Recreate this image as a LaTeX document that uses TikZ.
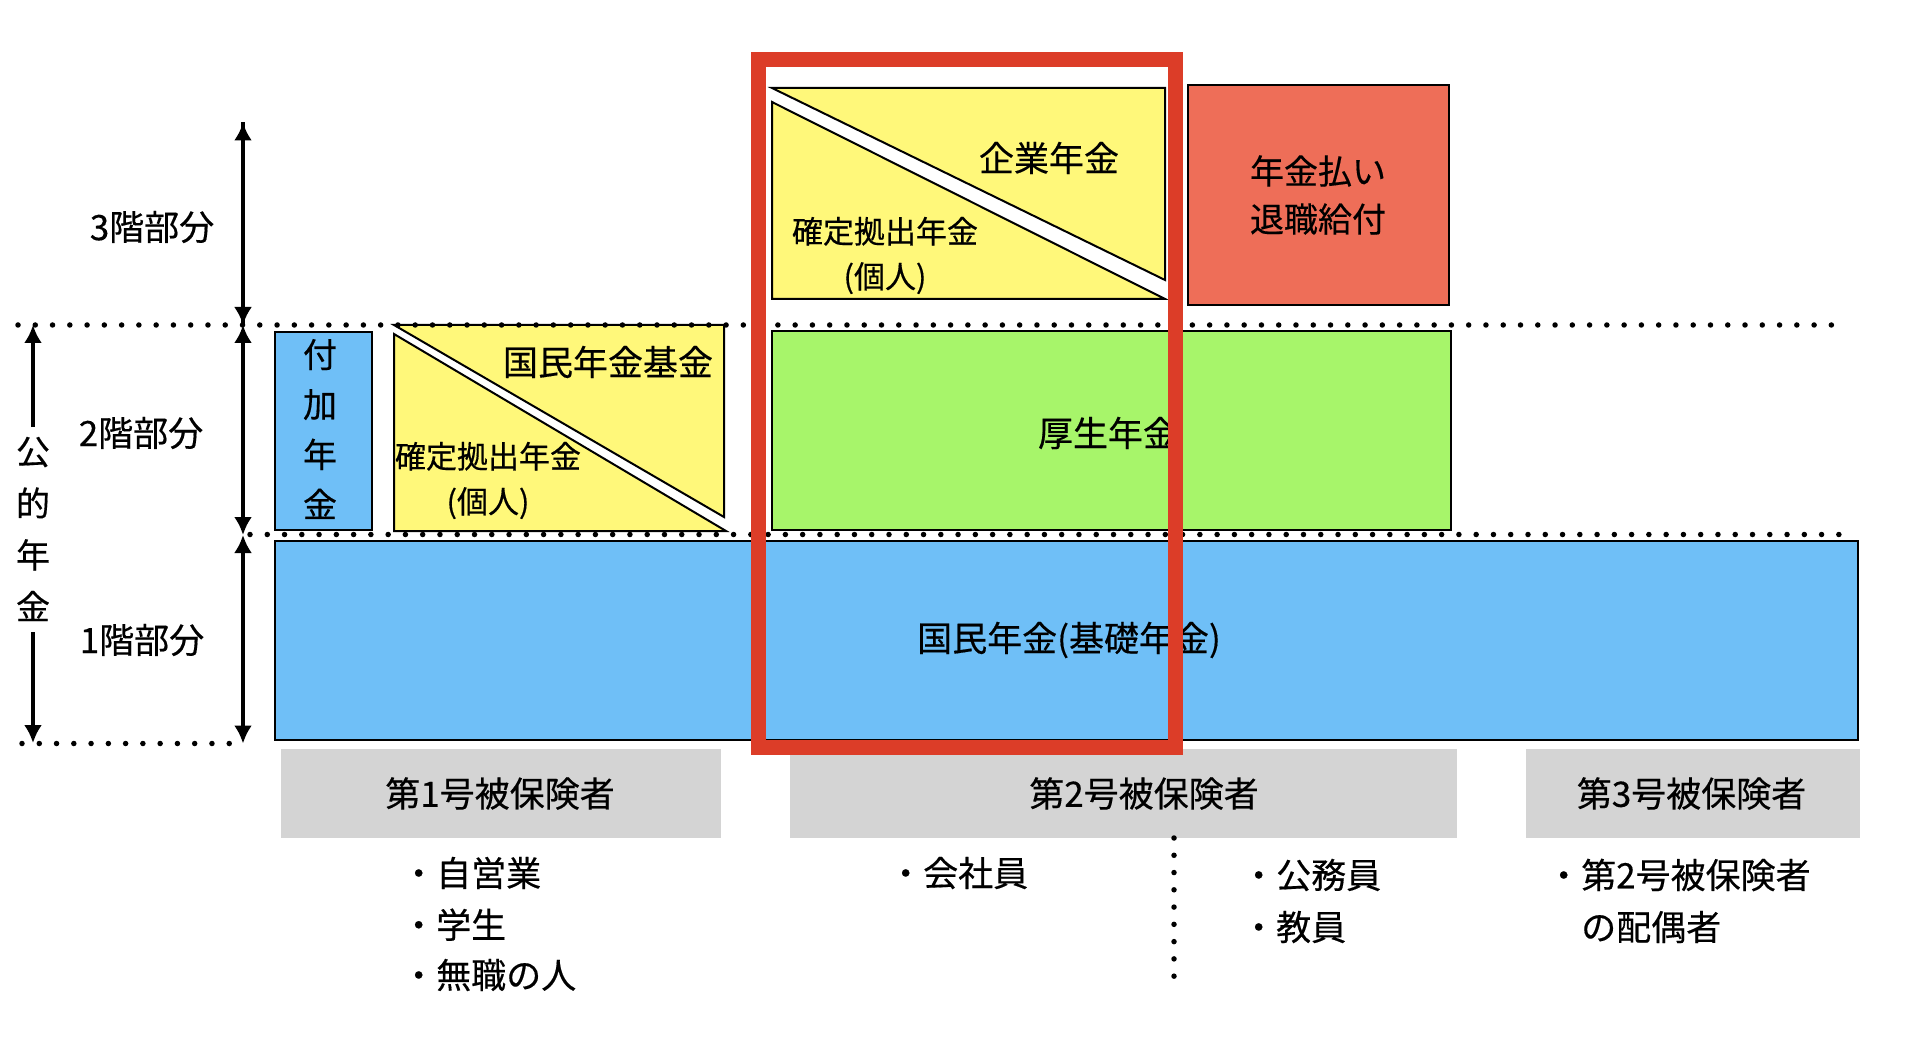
\documentclass[tikz,border=0pt]{standalone}
\usepackage{fontspec}
\setmainfont{Noto Sans CJK JP}[FakeBold=0.4]
\usetikzlibrary{arrows.meta}
\definecolor{yel}{HTML}{FFF87A}
\definecolor{grn}{HTML}{A7F56A}
\definecolor{blu}{HTML}{6FBFF7}
\definecolor{salm}{HTML}{EE6E58}
\definecolor{framered}{HTML}{DC3D28}
\definecolor{gry}{HTML}{D4D4D4}
\begin{document}
\begin{tikzpicture}[x=1pt,y=-1pt,
  lbl/.style={font=\fontsize{35}{40}\selectfont, inner sep=0pt},
  smalllbl/.style={font=\fontsize{31}{45}\selectfont, inner sep=0pt, align=center},
  panel/.style={draw=black, line width=2pt, inner sep=0pt},
  graybox/.style={fill=gry, draw=none, inner sep=0pt},
  dotline/.style={line width=5.5pt, line cap=round, dash pattern=on 0pt off 17.27pt},
  dimarrow/.style={line width=3.4pt, -{Latex[length=18pt,width=18pt]}},
  dimboth/.style={line width=3.4pt, {Latex[length=18pt,width=18pt]}-{Latex[length=18pt,width=18pt]}},
  tri/.style={fill=yel, draw=black, line width=2pt, line join=miter}]
\useasboundingbox (0,0) rectangle (1908,1048);

% ---- tier 3 ----
\coordinate (kA) at (772,88);  \coordinate (kB) at (1165,88);  \coordinate (kC) at (1165,280);
\coordinate (kD) at (772,102); \coordinate (kE) at (772,299); \coordinate (kF) at (1165,299);
\draw[tri] (kA) -- (kB) -- (kC) -- cycle;
\draw[tri] (kD) -- (kE) -- (kF) -- cycle;
\node[lbl] (kigyo) at (1049,158) {企業年金};
\node[smalllbl] (idc1) at (885,255.5) {確定拠出年金\\(個人)};

\node[panel, fill=salm, minimum width=261pt, minimum height=220pt,
      font=\fontsize{34}{48}\selectfont, align=center] (taishoku) at (1318,195) {年金払い\\退職給付};

% ---- tier 2 ----
\node[panel, fill=blu, minimum width=97pt, minimum height=198pt] (fuka) at (323.4,431) {};
\node[lbl, align=center, font=\fontsize{34}{50}\selectfont] (fukatxt) at (320,429) {付\\加\\年\\金};

\coordinate (nA) at (394,325);  \coordinate (nB) at (724,325);  \coordinate (nC) at (724,517);
\coordinate (nD) at (394,334);  \coordinate (nE) at (394,531);  \coordinate (nF) at (726,531);
\draw[tri] (nA) -- (nB) -- (nC) -- cycle;
\draw[tri] (nD) -- (nE) -- (nF) -- cycle;
\node[lbl] (kikin) at (608,362) {国民年金基金};
\node[smalllbl] (idc2) at (488,480.5) {確定拠出年金\\(個人)};

\node[panel, fill=grn, minimum width=679.5pt, minimum height=198.5pt] (kosei) at (1111.25,430.75) {};
\node[lbl] (koseitxt) at (1108,433) {厚生年金};

% ---- tier 1 ----
\node[panel, fill=blu, minimum width=1583pt, minimum height=199pt] (kiso) at (1066.5,640.5) {};
\node[lbl] (kisotxt) at (1069,640) {国民年金(基礎年金)};

% ---- dotted level lines ----
\coordinate (d1a) at (18,325);  \coordinate (d1b) at (1833,325);
\coordinate (d2a) at (250,534.5); \coordinate (d2b) at (1841,534.5);
\coordinate (d3a) at (22,743.5); \coordinate (d3b) at (231,743.5);
\draw[dotline] (d1a) -- (d1b);
\draw[dotline] (d2a) -- (d2b);
\draw[dotline] (d3a) -- (d3b);

% ---- level arrows ----
\coordinate (a3) at (243,122.5);
\coordinate (a2) at (243,325);
\coordinate (a1) at (243,535);
\coordinate (a0) at (243,743.5);
\draw[dimarrow] (a3) -- (a2);
\draw[dimarrow] (a2) -- (a3);
\draw[dimboth] (a2) -- (a1);
\draw[dimboth] (a1) -- (a0);
\node[lbl] (lv3) at (152,227) {3階部分};
\node[lbl] (lv2) at (141,433) {2階部分};
\node[lbl] (lv1) at (142,640) {1階部分};

% ---- public pension arrow ----
\node[lbl, align=center, font=\fontsize{34}{51.7}\selectfont] (koteki) at (33,529) {公\\的\\年\\金};
\coordinate (pTop) at (33,325);
\coordinate (pBot) at (33,743);
\coordinate (pu) at (33,427);
\coordinate (pd) at (33,632);
\draw[dimarrow] (pu) -- (pTop);
\draw[dimarrow] (pd) -- (pBot);

% ---- insured categories ----
\node[graybox, minimum width=440pt, minimum height=89pt] (g1) at (501,793.5) {};
\node[graybox, minimum width=667pt, minimum height=89pt] (g2) at (1123.5,793.5) {};
\node[graybox, minimum width=334pt, minimum height=89pt] (g3) at (1693,793.5) {};
\node[lbl] (g1t) at (500,793.5) {第1号被保険者};
\node[lbl] (g2t) at (1144,793.5) {第2号被保険者};
\node[lbl] (g3t) at (1691.5,793.5) {第3号被保険者};

\node[lbl, anchor=west] (b11) at (401,873) {・自営業};
\node[lbl, anchor=west] (b12) at (401,924.7) {・学生};
\node[lbl, anchor=west] (b13) at (401,975) {・無職の人};
\node[lbl, anchor=west] (b21) at (888,873) {・会社員};
\node[lbl, anchor=west] (b22) at (1241,875) {・公務員};
\node[lbl, anchor=west] (b23) at (1241,927) {・教員};
\node[lbl, anchor=west] (b31) at (1546,875) {・第2号被保険者};
\node[lbl, anchor=west] (b32) at (1581,927) {の配偶者};

\coordinate (vdA) at (1174,838);
\coordinate (vdB) at (1174,977);
\draw[dotline] (vdA) -- (vdB);

% ---- highlight frame ----
\node[draw=framered, line width=14.5pt, minimum width=417pt, minimum height=688pt, inner sep=0pt] (focus) at (966.9,403.6) {};
\end{tikzpicture}
\end{document}
